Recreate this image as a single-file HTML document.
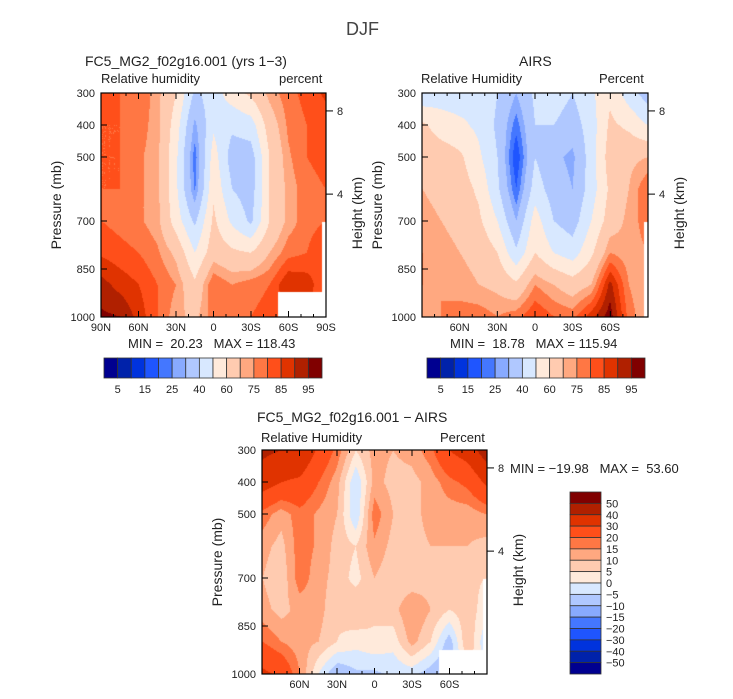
<!DOCTYPE html>
<html><head><meta charset="utf-8"><style>
body{margin:0;background:#fff;font-family:"Liberation Sans",sans-serif;color:#222}
#root{position:relative;width:733px;height:699px;overflow:hidden}
.t{position:absolute;white-space:nowrap;font-size:13px;color:#222}
canvas{position:absolute}
svg{position:absolute;left:0;top:0}
</style></head><body>
<div id="root">
<div class="t" style="left:346px;top:19px;font-size:18px;color:#444">DJF</div>
<div class="t" style="left:85px;top:53px;font-size:14px">FC5_MG2_f02g16.001 (yrs 1−3)</div>
<div class="t" style="left:101px;top:71px">Relative humidity</div>
<div class="t" style="left:279px;top:71px">percent</div>
<div class="t" style="left:519px;top:53px;font-size:14px">AIRS</div>
<div class="t" style="left:421px;top:71px">Relative Humidity</div>
<div class="t" style="left:599px;top:71px">Percent</div>
<div class="t" style="left:257px;top:409px;font-size:14px">FC5_MG2_f02g16.001 − AIRS</div>
<div class="t" style="left:261px;top:430px">Relative Humidity</div>
<div class="t" style="left:440px;top:430px">Percent</div>
<div class="t" style="left:128px;top:336px">MIN =&nbsp; 20.23&nbsp;&nbsp; MAX = 118.43</div>
<div class="t" style="left:450px;top:336px">MIN =&nbsp; 18.78&nbsp;&nbsp; MAX = 115.94</div>
<div class="t" style="left:510px;top:461px">MIN = −19.98&nbsp;&nbsp; MAX =&nbsp; 53.60</div>
<canvas id="c1" width="225" height="224" style="left:101px;top:93px"></canvas>
<canvas id="c2" width="226" height="224" style="left:422px;top:93px"></canvas>
<canvas id="c3" width="225" height="224" style="left:262px;top:450px"></canvas>
<svg id="ov" width="733" height="699"></svg>
</div>
<script>
const lats=[90,75,60,45,30,15,0,-15,-30,-45,-60,-75,-90];
const pres=[300,400,500,600,700,800,900,1000];
const rhLevels=[5,10,15,20,25,30,40,50,60,70,75,80,85,90,95];
const rhLabels=["5","15","25","40","60","75","85","95"];
const diffLevels=[-50,-40,-30,-20,-15,-10,-5,0,5,10,15,20,30,40,50];
const diffLabels=["50","40","30","20","15","10","5","0","−5","−10","−15","−20","−30","−40","−50"];
const palette=["#000090","#0022aa","#0033dd","#1f55ff","#4477ff","#88aaff","#b0c8ff","#d8e8ff","#ffeadb","#ffcbb0","#ffa880","#ff7744","#ff4f1a","#e03300","#b02000","#800000"];
const modelRH=[
[82,80,80,72,60,38,45,55,62,72,78,82,86],
[80,80,78,72,55,28,48,42,45,65,76,80,82],
[80,80,76,72,52,22,55,35,35,60,74,80,82],
[80,80,76,72,52,24,58,40,35,60,72,78,80],
[80,78,76,72,55,38,62,48,38,60,72,78,80],
[84,82,80,76,68,50,66,62,60,70,78,80,85],
[92,88,85,80,75,62,80,75,78,80,90,88,80],
[96,95,88,80,72,68,78,78,80,82,85,85,80]];
const airsRH=[
[42,45,45,48,40,30,42,45,40,48,58,45,35],
[62,55,52,48,38,22,40,40,35,45,62,58,50],
[68,66,62,52,40,15,40,32,28,45,65,68,70],
[70,68,65,58,42,20,45,35,30,45,62,70,80],
[72,70,68,62,50,30,55,40,35,50,65,72,78],
[75,72,70,68,60,42,60,50,45,58,75,72,75],
[75,75,72,70,68,62,75,70,65,70,92,75,70],
[72,75,78,78,75,78,85,80,78,88,98,78,70]];
const diffRH=[
[42,40,40,28,18,5,12,10,12,18,30,35,45],
[35,30,28,20,12,-5,12,8,8,12,18,22,32],
[18,12,18,14,10,-5,18,10,8,12,12,12,15],
[12,8,18,14,8,5,14,8,8,10,10,10,8],
[10,6,18,12,8,3,10,6,6,8,8,6,5],
[12,8,12,12,6,10,6,8,15,10,5,8,2],
[20,15,12,10,5,2,4,2,12,5,-8,10,-5],
[32,28,15,0,-10,-6,-6,-4,-3,-8,-12,5,0]];

function colorFor(v,levels){let i=0;while(i<levels.length&&v>=levels[i])i++;return palette[i];}
function hex(c){return [parseInt(c.slice(1,3),16),parseInt(c.slice(3,5),16),parseInt(c.slice(5,7),16)];}
function sample(grid,fx,fy){
  const gx=fx*(lats.length-1), gy=fy*(pres.length-1);
  const i=Math.min(Math.floor(gx),lats.length-2), j=Math.min(Math.floor(gy),pres.length-2);
  const u=gx-i, v=gy-j;
  return grid[j][i]*(1-u)*(1-v)+grid[j][i+1]*u*(1-v)+grid[j+1][i]*(1-u)*v+grid[j+1][i+1]*u*v;
}
function drawField(id,grid,levels,holes){
  const c=document.getElementById(id),ctx=c.getContext('2d'),W=c.width,H=c.height;
  const img=ctx.createImageData(W,H);
  for(let y=0;y<H;y++)for(let x=0;x<W;x++){
    const fx=x/(W-1),fy=y/(H-1);
    let rgb=hex(colorFor(sample(grid,fx,fy),levels));
    for(const h of holes){if(fx>=h[0]&&fy>=h[1])rgb=[255,255,255];}
    const k=(y*W+x)*4;img.data[k]=rgb[0];img.data[k+1]=rgb[1];img.data[k+2]=rgb[2];img.data[k+3]=255;
  }
  ctx.putImageData(img,0,0);
}
drawField('c1',modelRH,rhLevels,[[0.79,0.89],[0.985,0.575]]);
drawField('c2',airsRH,rhLevels,[[0.985,0.575]]);
drawField('c3',diffRH,diffLevels,[[0.79,0.896],[0.985,0.575]]);

const NS='http://www.w3.org/2000/svg',ov=document.getElementById('ov');
function el(tag,attrs,parent){const e=document.createElementNS(NS,tag);for(const k in attrs)e.setAttribute(k,attrs[k]);(parent||ov).appendChild(e);return e;}
function txt(x,y,s,anchor,size,name,rot){const t=el('text',{x:x,y:y,'text-anchor':anchor,'font-size':size,fill:'#222','font-family':'Liberation Sans, sans-serif'});if(rot)t.setAttribute('transform','rotate(-90 '+x+' '+y+')');t.textContent=s;return t;}
const latTicks=[[60,"60N"],[30,"30N"],[0,"0"],[-30,"30S"],[-60,"60S"]];
const pTicks=[300,400,500,700,850,1000];
function axes(x0,y0,w,h,full,pfx){
  const xs=lat=>x0+(90-lat)/180*w, ys=p=>y0+(p-300)/700*h;
  const r=el('rect',{x:x0,y:y0,width:w,height:h,fill:'none',stroke:'#000','stroke-width':1.2});
  
  for(let lat=90;lat>=-90;lat-=10){
    const L=(lat%30===0)?6:3;
    el('line',{x1:xs(lat),x2:xs(lat),y1:y0,y2:y0+L,stroke:'#000'});
    el('line',{x1:xs(lat),x2:xs(lat),y1:y0+h,y2:y0+h-L,stroke:'#000'});
  }
  const labs=full?[[90,"90N"]].concat(latTicks,[[-90,"90S"]]):latTicks;
  for(const [lat,s] of labs)txt(xs(lat),y0+h+14,s,'middle',11,pfx+'-x-tick-'+s);
  for(const p of pTicks){el('line',{x1:x0,x2:x0+6,y1:ys(p),y2:ys(p),stroke:'#000'});txt(x0-6,ys(p)+4,String(p),'end',11,pfx+'-y-tick-'+p);}
  for(const [hk,p] of [[8,356],[4,616]]){el('line',{x1:x0+w,x2:x0+w+7,y1:ys(p),y2:ys(p),stroke:'#000'});txt(x0+w+11,ys(p)+4,String(hk),'start',11,pfx+'-height-tick-'+hk);}
  txt(x0-40,y0+h/2,'Pressure (mb)','middle',14,pfx+'-y-axis-title',true);
  txt(x0+w+36,y0+h/2+8,'Height (km)','middle',14,pfx+'-height-axis-title',true);
}
axes(101,93,225,224,true,'model');
axes(422,93,226,224,false,'airs');
axes(262,450,225,224,false,'diff');

function hbar(x0,y0,w,h,pfx){
  const bw=w/16;
  for(let i=0;i<16;i++){const r=el('rect',{x:x0+i*bw,y:y0,width:bw,height:h,fill:palette[i],stroke:'#333','stroke-width':0.8});}
  rhLabels.forEach((s,k)=>txt(x0+(2*k+1)*bw,y0+h+15,s,'middle',11,pfx+'-colorbar-label-'+s));
}
hbar(104,358,218,20,'model');
hbar(427,358,218,20,'airs');
const vx=570,vy=492,vw=31,vh=182,bh=vh/16;
for(let i=0;i<16;i++){const r=el('rect',{x:vx,y:vy+i*bh,width:vw,height:bh,fill:palette[15-i],stroke:'#333','stroke-width':0.8});}
diffLabels.forEach((s,k)=>txt(vx+vw+5,vy+(k+1)*bh+4,s,'start',11,'diff-colorbar-label'));
</script>
</body></html>
